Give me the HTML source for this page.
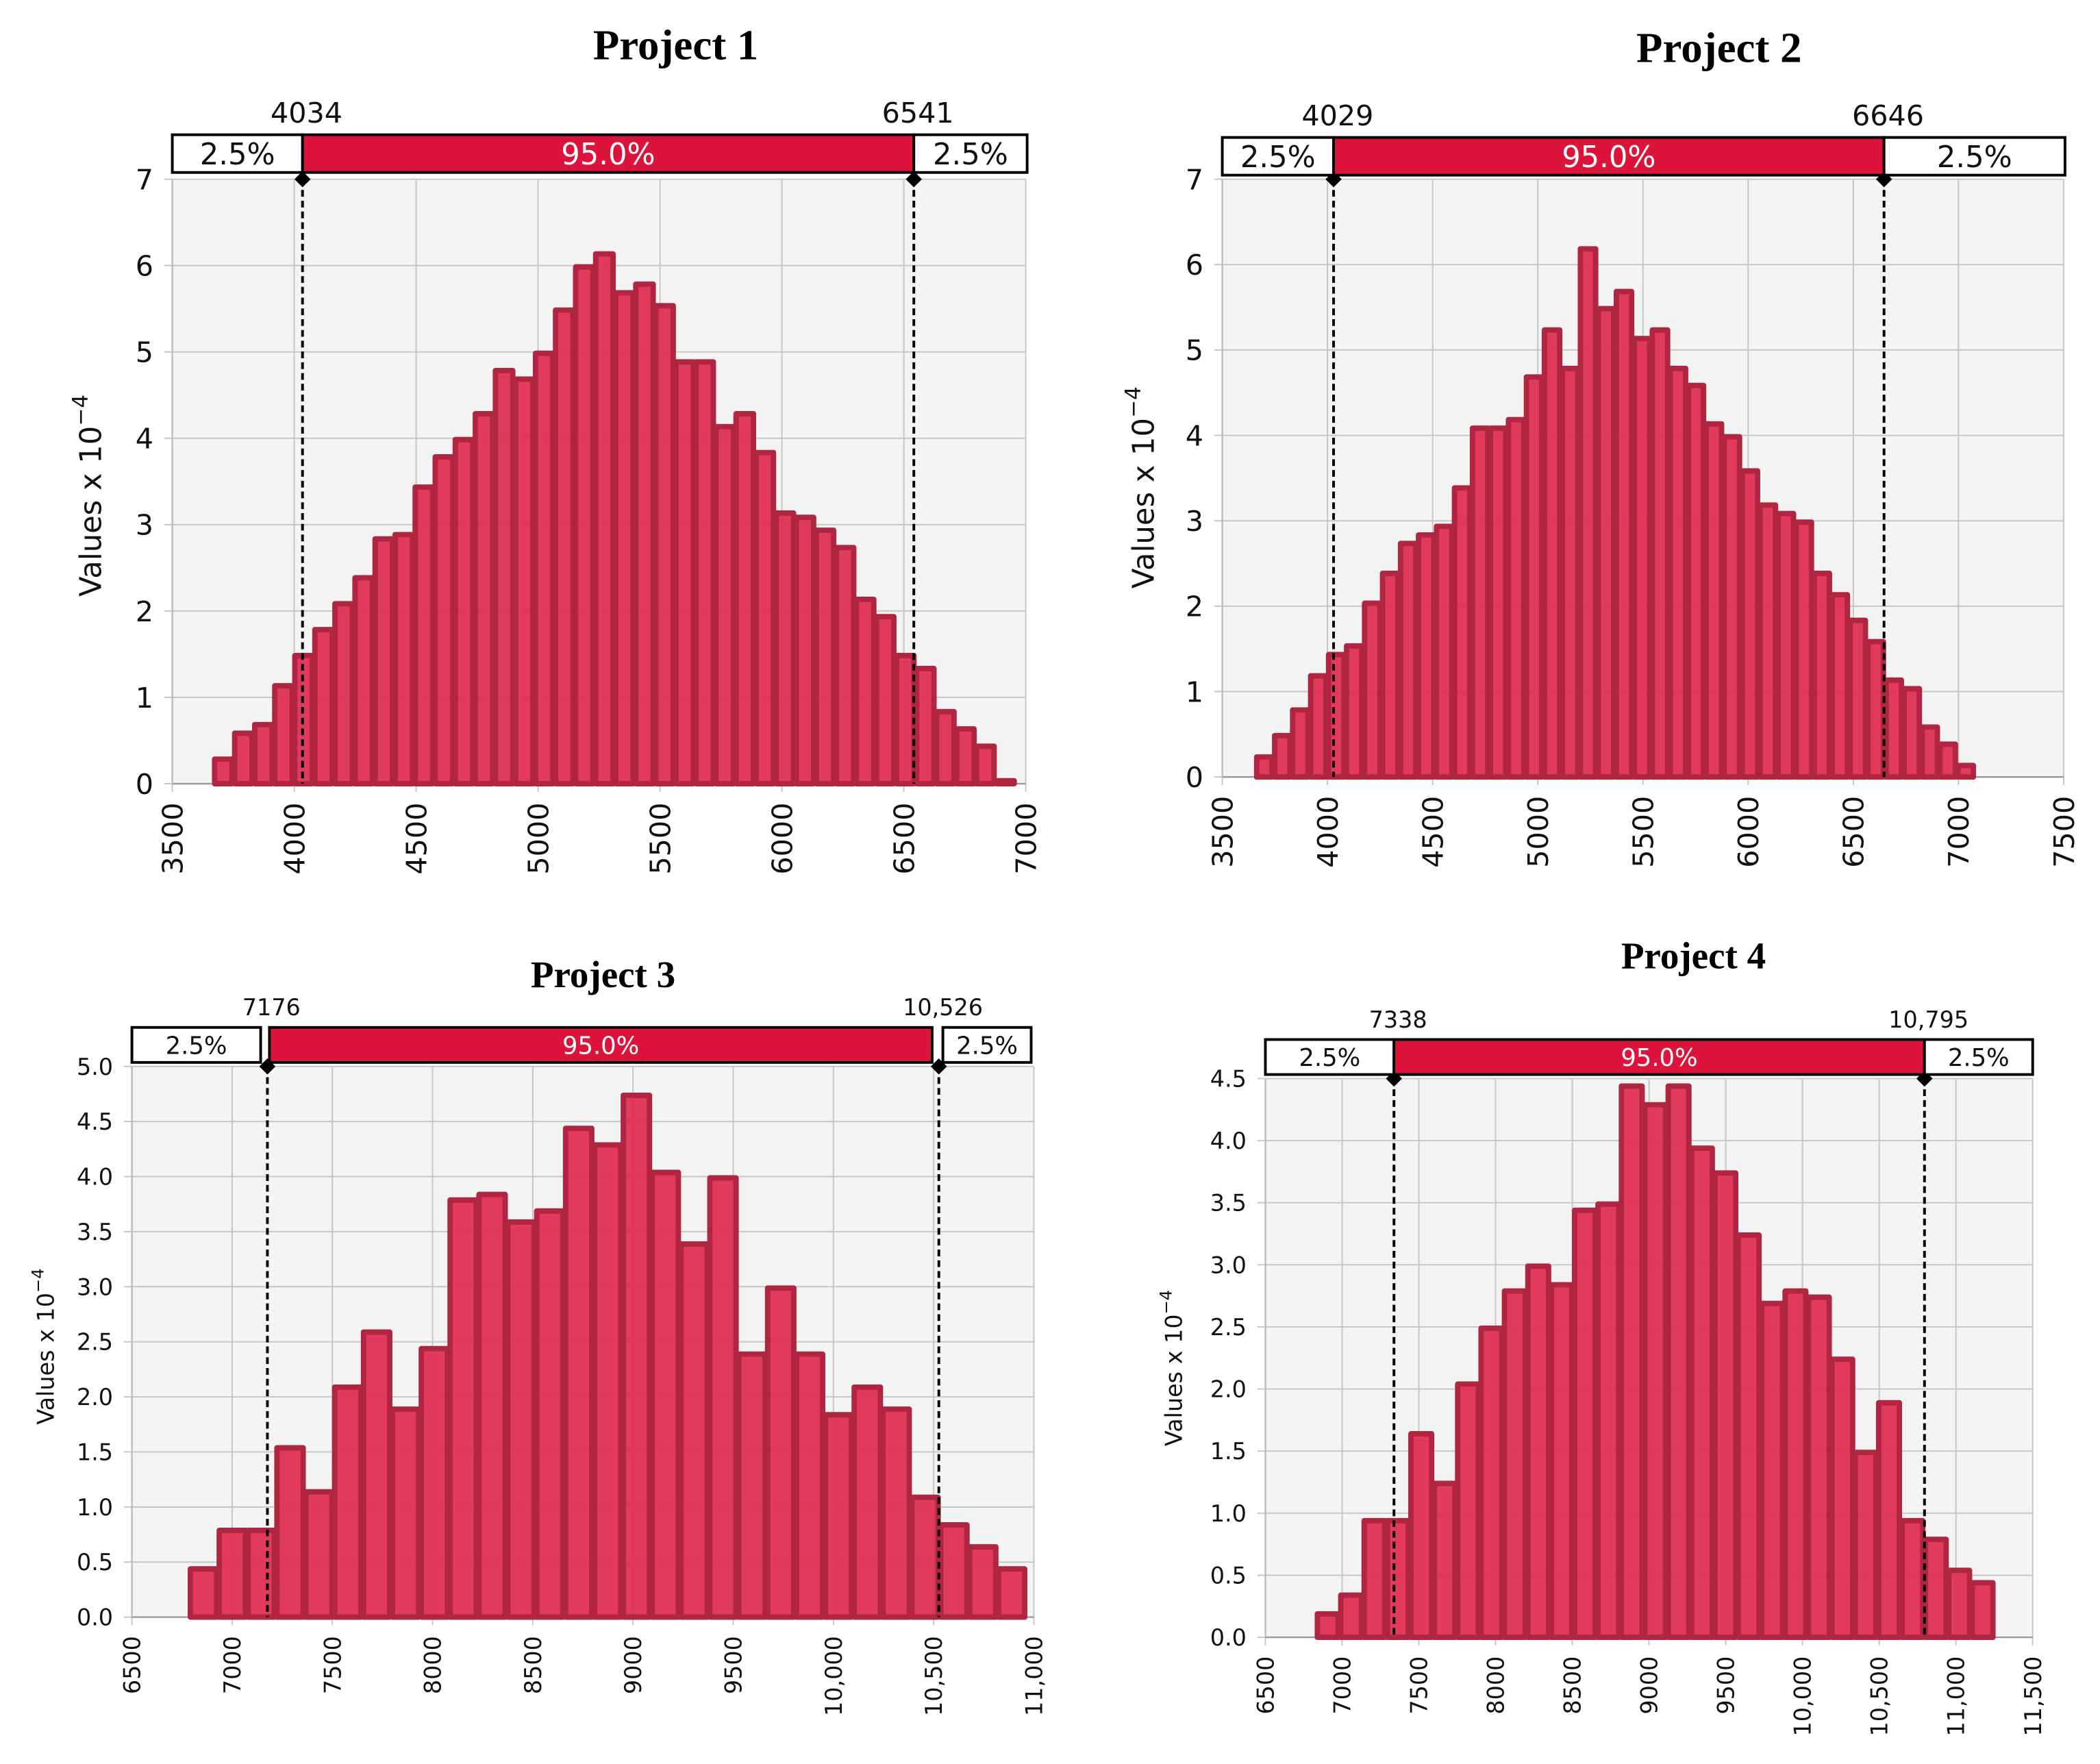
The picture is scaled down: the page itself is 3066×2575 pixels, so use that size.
<!DOCTYPE html>
<html><head><meta charset="utf-8">
<style>
html,body{margin:0;padding:0;background:#fff;}
svg{display:block;}
</style></head>
<body>
<svg id="root" xmlns="http://www.w3.org/2000/svg" width="3066" height="2575" viewBox="0 0 1560 1310" font-family="'DejaVu Sans','Liberation Sans',sans-serif"></svg>
<script>
// ---- Project 1 data ----
const p1Values = [0.3,0.6,0.7,1.15,1.5,1.8,2.1,2.4,2.85,2.9,3.45,3.8,4.0,4.3,4.8,4.7,5.0,5.5,6.0,6.15,5.7,5.8,5.55,4.9,4.9,4.15,4.3,3.85,3.15,3.1,2.95,2.75,2.15,1.95,1.5,1.35,0.85,0.65,0.45,0.05];
const p1BinStart = 3668;
const p1BinWidth = 82.25;
const p1Percentiles = [4034, 6541];
const p1PercentileLabels = ["4034", "6541"];
const p1XTicks = [3500,4000,4500,5000,5500,6000,6500,7000];
const p1XTickLabels = ["3500","4000","4500","5000","5500","6000","6500","7000"];
const p1YTicks = [0,1,2,3,4,5,6,7];
const p1YTickLabels = ["0","1","2","3","4","5","6","7"];
// ---- Project 2 data ----
const p2Values = [0.25,0.5,0.8,1.2,1.45,1.55,2.05,2.4,2.75,2.85,2.95,3.4,4.1,4.1,4.2,4.7,5.25,4.8,6.2,5.5,5.7,5.15,5.25,4.8,4.6,4.15,4.0,3.6,3.2,3.1,3.0,2.4,2.15,1.85,1.6,1.15,1.05,0.6,0.4,0.15];
const p2BinStart = 3657;
const p2BinWidth = 85.5;
const p2Percentiles = [4029, 6646];
const p2PercentileLabels = ["4029", "6646"];
const p2XTicks = [3500,4000,4500,5000,5500,6000,6500,7000,7500];
const p2XTickLabels = ["3500","4000","4500","5000","5500","6000","6500","7000","7500"];
const p2YTicks = [0,1,2,3,4,5,6,7];
const p2YTickLabels = ["0","1","2","3","4","5","6","7"];
// ---- Project 3 data ----
const p3Values = [0.45,0.8,0.8,1.55,1.15,2.1,2.6,1.9,2.45,3.8,3.85,3.6,3.7,4.45,4.3,4.75,4.05,3.4,4.0,2.4,3.0,2.4,1.85,2.1,1.9,1.1,0.85,0.65,0.45];
const p3BinStart = 6785;
const p3BinWidth = 144;
const p3Percentiles = [7176, 10526];
const p3PercentileLabels = ["7176", "10,526"];
const p3XTicks = [6500,7000,7500,8000,8500,9000,9500,10000,10500,11000];
const p3XTickLabels = ["6500","7000","7500","8000","8500","9000","9500","10,000","10,500","11,000"];
const p3YTicks = [0,0.5,1,1.5,2,2.5,3,3.5,4,4.5,5];
const p3YTickLabels = ["0.0","0.5","1.0","1.5","2.0","2.5","3.0","3.5","4.0","4.5","5.0"];
// ---- Project 4 data ----
const p4Values = [0.2,0.35,0.95,0.95,1.65,1.25,2.05,2.5,2.8,3.0,2.85,3.45,3.5,4.45,4.3,4.45,3.95,3.75,3.25,2.7,2.8,2.75,2.25,1.5,1.9,0.95,0.8,0.55,0.45];
const p4BinStart = 6830;
const p4BinWidth = 152.4;
const p4Percentiles = [7338, 10795];
const p4PercentileLabels = ["7338", "10,795"];
const p4XTicks = [6500,7000,7500,8000,8500,9000,9500,10000,10500,11000,11500];
const p4XTickLabels = ["6500","7000","7500","8000","8500","9000","9500","10,000","10,500","11,000","11,500"];
const p4YTicks = [0,0.5,1,1.5,2,2.5,3,3.5,4,4.5];
const p4YTickLabels = ["0.0","0.5","1.0","1.5","2.0","2.5","3.0","3.5","4.0","4.5"];

const NS = "http://www.w3.org/2000/svg";
const root = document.getElementById('root');
function mk(tag, attrs, parent){
  const e = document.createElementNS(NS, tag);
  for (const k in attrs) e.setAttribute(k, attrs[k]);
  (parent||root).appendChild(e);
  return e;
}

function drawChart(c){
  const g = mk('g', {});
  
  
  const xS = v => c.L + (v - c.xMin) / (c.xMax - c.xMin) * (c.R - c.L);
  const yS = v => c.B - (v - c.yMin) / (c.yMax - c.yMin) * (c.B - c.T);
  const bg = mk('rect', {x:c.L, y:c.T, width:c.R-c.L, height:c.B-c.T, fill:'#f4f4f4'}, g);
  
  
  c.yTicks.forEach((t,i) => {
    const y = yS(t);
    const gl = mk('line', {x1:c.L-6, x2:c.R, y1:y, y2:y, stroke:'#c6c6c6', 'stroke-width':1}, g);
    
    
    const tl = mk('text', {x:c.L-14, y:y + c.fs*0.36, 'text-anchor':'end', 'font-size':c.fs, fill:'#111'}, g);
    tl.textContent = c.yLabels[i];
    
    
  });
  c.xTicks.forEach((t,i) => {
    const x = xS(t);
    const gl = mk('line', {x1:x, x2:x, y1:c.T, y2:c.B+6, stroke:'#c6c6c6', 'stroke-width':1}, g);
    
    
    const ty = c.B + 14;
    const tl = mk('text', {x:0, y:0, 'text-anchor':'end', 'font-size':c.fs, fill:'#111', transform:'translate(' + (x + c.fs*0.36) + ',' + ty + ') rotate(-90)'}, g);
    tl.textContent = c.xLabels[i];
    
    
  });
  const ax = mk('line', {x1:c.L, x2:c.R, y1:c.B, y2:c.B, stroke:'#999', 'stroke-width':1.2}, g);
  
  
  const ay = mk('line', {x1:c.L, x2:c.L, y1:c.T, y2:c.B, stroke:'#bbb', 'stroke-width':1.2}, g);
  
  
  c.values.forEach((v,i) => {
    const x0 = xS(c.binStart + i*c.binWidth), x1 = xS(c.binStart + (i+1)*c.binWidth);
    const y = yS(v);
    const b = mk('rect', {x:x0+1, y:y+1, width:Math.max(0,x1-x0-2), height:Math.max(0,c.B-y-1), fill:'#e02f53', stroke:'#b02540', 'stroke-width':4, 'stroke-linejoin':'round', 'fill-opacity':0.95}, g);
    
    
  });
  c.pct.forEach(p => {
    const x = xS(p);
    const dl = mk('line', {x1:x, x2:x, y1:c.T, y2:c.B, stroke:'#000', 'stroke-width':2, 'stroke-dasharray':'5,3'}, g);
    
    
    const d = mk('path', {d:'M'+x+','+(c.T-6)+' L'+(x+6)+','+c.T+' L'+x+','+(c.T+6)+' L'+(x-6)+','+c.T+' Z', fill:'#000'}, g);
    
    
  });
  const pl = xS(c.pct[0]), pr = xS(c.pct[1]);
  const segs = [[c.bandL, pl - c.gap, '#fff', '2.5%', '#111', 'left-tail-box'], [pl + c.gap*0.3, pr - c.gap, '#dc143c', '95.0%', '#fff', 'central-interval-box'], [pr + c.gap*0.6, c.bandR, '#fff', '2.5%', '#111', 'right-tail-box']];
  segs.forEach(s => {
    const r = mk('rect', {x:s[0], y:c.bandT, width:s[1]-s[0], height:c.bandH, fill:s[2], stroke:'#000', 'stroke-width':2}, g);
    
    
    const t = mk('text', {x:(s[0]+s[1])/2, y:c.bandT + c.bandH/2 + c.bfs*0.37, 'text-anchor':'middle', 'font-size':c.bfs, fill:s[4]}, g);
    t.textContent = s[3];
    
    
  });
  c.pct.forEach((p,i) => {
    const t = mk('text', {x:xS(p) + 3, y:c.bandT - 9, 'text-anchor':'middle', 'font-size':c.fs, fill:'#111'}, g);
    t.textContent = c.pctLabels[i];
    
    
  });
  const tt = mk('text', {x:c.titleX, y:c.titleY, 'text-anchor':'middle', 'font-size':c.tfs, 'font-weight':'bold', 'font-family':"'Liberation Serif',serif", fill:'#000'}, g);
  tt.textContent = c.title;
  
  
  const yt = mk('text', {x:0, y:0, 'text-anchor':'middle', 'font-size':c.yfs, fill:'#111', transform:'translate(' + c.ytX + ',' + c.ytY + ') rotate(-90)'}, g);
  
  
  yt.appendChild(document.createTextNode('Values x 10'));
  const sup = mk('tspan', {dy: -c.yfs*0.45, 'font-size': c.yfs*0.72}, yt);
  sup.textContent = '\u22124';
}

drawChart({id:'project-1', title:'Project 1', titleX:502, titleY:44, tfs:32,
  L:128, R:762, T:133, B:582, xMin:3500, xMax:7000, yMin:0, yMax:7,
  values:p1Values, binStart:p1BinStart, binWidth:p1BinWidth, pct:p1Percentiles, pctLabels:p1PercentileLabels,
  xTicks:p1XTicks, xLabels:p1XTickLabels, yTicks:p1YTicks, yLabels:p1YTickLabels,
  fs:21, bfs:22, yfs:22, ytX:75, ytY:368, bandL:128, bandR:763, bandT:100, bandH:28, gap:0});
drawChart({id:'project-2', title:'Project 2', titleX:1277, titleY:46, tfs:32,
  L:908, R:1533, T:133, B:577, xMin:3500, xMax:7500, yMin:0, yMax:7,
  values:p2Values, binStart:p2BinStart, binWidth:p2BinWidth, pct:p2Percentiles, pctLabels:p2PercentileLabels,
  xTicks:p2XTicks, xLabels:p2XTickLabels, yTicks:p2YTicks, yLabels:p2YTickLabels,
  fs:21, bfs:22, yfs:22, ytX:857, ytY:362, bandL:908, bandR:1534, bandT:102, bandH:28, gap:0});
drawChart({id:'project-3', title:'Project 3', titleX:448, titleY:733, tfs:28,
  L:98, R:768, T:792, B:1201, xMin:6500, xMax:11000, yMin:0, yMax:5,
  values:p3Values, binStart:p3BinStart, binWidth:p3BinWidth, pct:p3Percentiles, pctLabels:p3PercentileLabels,
  xTicks:p3XTicks, xLabels:p3XTickLabels, yTicks:p3YTicks, yLabels:p3YTickLabels,
  fs:17, bfs:18, yfs:17, ytX:40, ytY:1000, bandL:98, bandR:766, bandT:763, bandH:26, gap:5});
drawChart({id:'project-4', title:'Project 4', titleX:1258, titleY:719, tfs:28,
  L:940, R:1510, T:801, B:1216, xMin:6500, xMax:11500, yMin:0, yMax:4.5,
  values:p4Values, binStart:p4BinStart, binWidth:p4BinWidth, pct:p4Percentiles, pctLabels:p4PercentileLabels,
  xTicks:p4XTicks, xLabels:p4XTickLabels, yTicks:p4YTicks, yLabels:p4YTickLabels,
  fs:17, bfs:18, yfs:17, ytX:878, ytY:1016, bandL:940, bandR:1510, bandT:772, bandH:26, gap:0});
</script>
</body></html>
